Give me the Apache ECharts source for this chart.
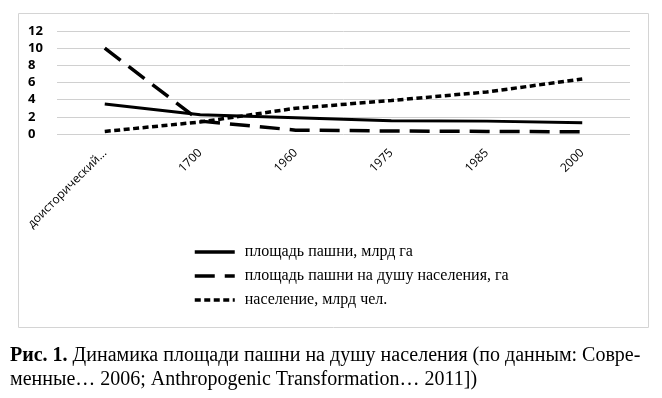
<!DOCTYPE html>
<html>
<head>
<meta charset="utf-8">
<script src="https://cdn.jsdelivr.net/npm/echarts@6/dist/echarts.min.js"></script>
<style>
  html, body { margin: 0; padding: 0; background: #fff; }
  #chart { width: 662px; height: 398px; }
</style>
</head>
<body>
<div id="chart"></div>
<script>
// данные
const categories = ['доисторический период', '1700', '1960', '1975', '1985', '2000'];
const arableLand = [3.5, 2.25, 1.9, 1.55, 1.5, 1.3];      // площадь пашни, млрд га
const perCapita = [10, 1.5, 0.45, 0.35, 0.3, 0.25];       // на душу населения, га
const population = [0.3, 1.4, 3.0, 3.9, 4.9, 6.4];        // население, млрд чел.
const yTicks = [0, 2, 4, 6, 8, 10, 12];

const seriesNames = [
  'площадь пашни, млрд га',
  'площадь пашни на душу населения, га',
  'население, млрд чел.'
];

const chart = echarts.init(document.getElementById('chart'));

const option = {
  animation: false,
  color: ['#000', '#000', '#000'],
  grid: { left: 57, right: 32, top: 31, bottom: 264, containLabel: false },
  xAxis: {
    type: 'category',
    data: categories,
    boundaryGap: true,
    axisLine: { show: false },
    axisTick: { show: false },
    axisLabel: {
      rotate: 45,
      margin: 17,
      color: '#000',
      fontFamily: 'Open Sans',
      fontSize: 12,
      formatter: v => v.length > 14 ? v.slice(0, 14) + '...' : v
    }
  },
  yAxis: {
    type: 'value',
    min: yTicks[0],
    max: yTicks[yTicks.length - 1],
    interval: 2,
    axisLine: { show: false },
    axisTick: { show: false },
    axisLabel: {
      color: '#000',
      fontFamily: 'Open Sans',
      fontWeight: 'bold',
      fontSize: 13,
      margin: 29,
      align: 'left'
    },
    splitLine: { lineStyle: { color: '#d0d0d0', width: 1 } }
  },
  legend: {
    orient: 'vertical',
    left: 188,
    top: 239,
    itemWidth: 40,
    itemHeight: 14,
    itemGap: 8,
    itemStyle: { opacity: 0 },
    lineStyle: { width: 3.5 },
    textStyle: {
      fontFamily: 'Liberation Serif',
      fontSize: 16,
      color: '#000',
      padding: [0, 0, 0, 5]
    },
    data: seriesNames
  },
  series: [
    {
      name: seriesNames[0],
      type: 'line',
      data: arableLand,
      symbol: 'none',
      lineStyle: { color: '#000', width: 3 }
    },
    {
      name: seriesNames[1],
      type: 'line',
      data: perCapita,
      symbol: 'none',
      lineStyle: { color: '#000', width: 3.5, type: [20, 10] }
    },
    {
      name: seriesNames[2],
      type: 'line',
      data: population,
      symbol: 'none',
      lineStyle: { color: '#000', width: 3.5, type: [6, 3.5] }
    }
  ],
  graphic: [
    {
      type: 'rect',
      shape: { x: 18.5, y: 13.5, width: 630, height: 314 },
      style: { fill: 'none', stroke: '#d4d4d4', lineWidth: 1 },
      silent: true
    },
    {
      type: 'text',
      left: 10,
      top: 346,
      style: {
        text: '{b|Рис. 1.} Динамика площади пашни на душу населения (по данным: Совре-',
        fontFamily: 'Liberation Serif',
        fontSize: 20,
        fill: '#000',
        rich: {
          b: { fontFamily: 'Liberation Serif', fontSize: 20, fontWeight: 'bold', fill: '#000' }
        }
      }
    },
    {
      type: 'text',
      left: 10,
      top: 370,
      style: {
        text: 'менные… 2006; Anthropogenic Transformation… 2011])',
        fontFamily: 'Liberation Serif',
        fontSize: 20,
        fill: '#000'
      }
    }
  ]
};

chart.setOption(option);
</script>
</body>
</html>
